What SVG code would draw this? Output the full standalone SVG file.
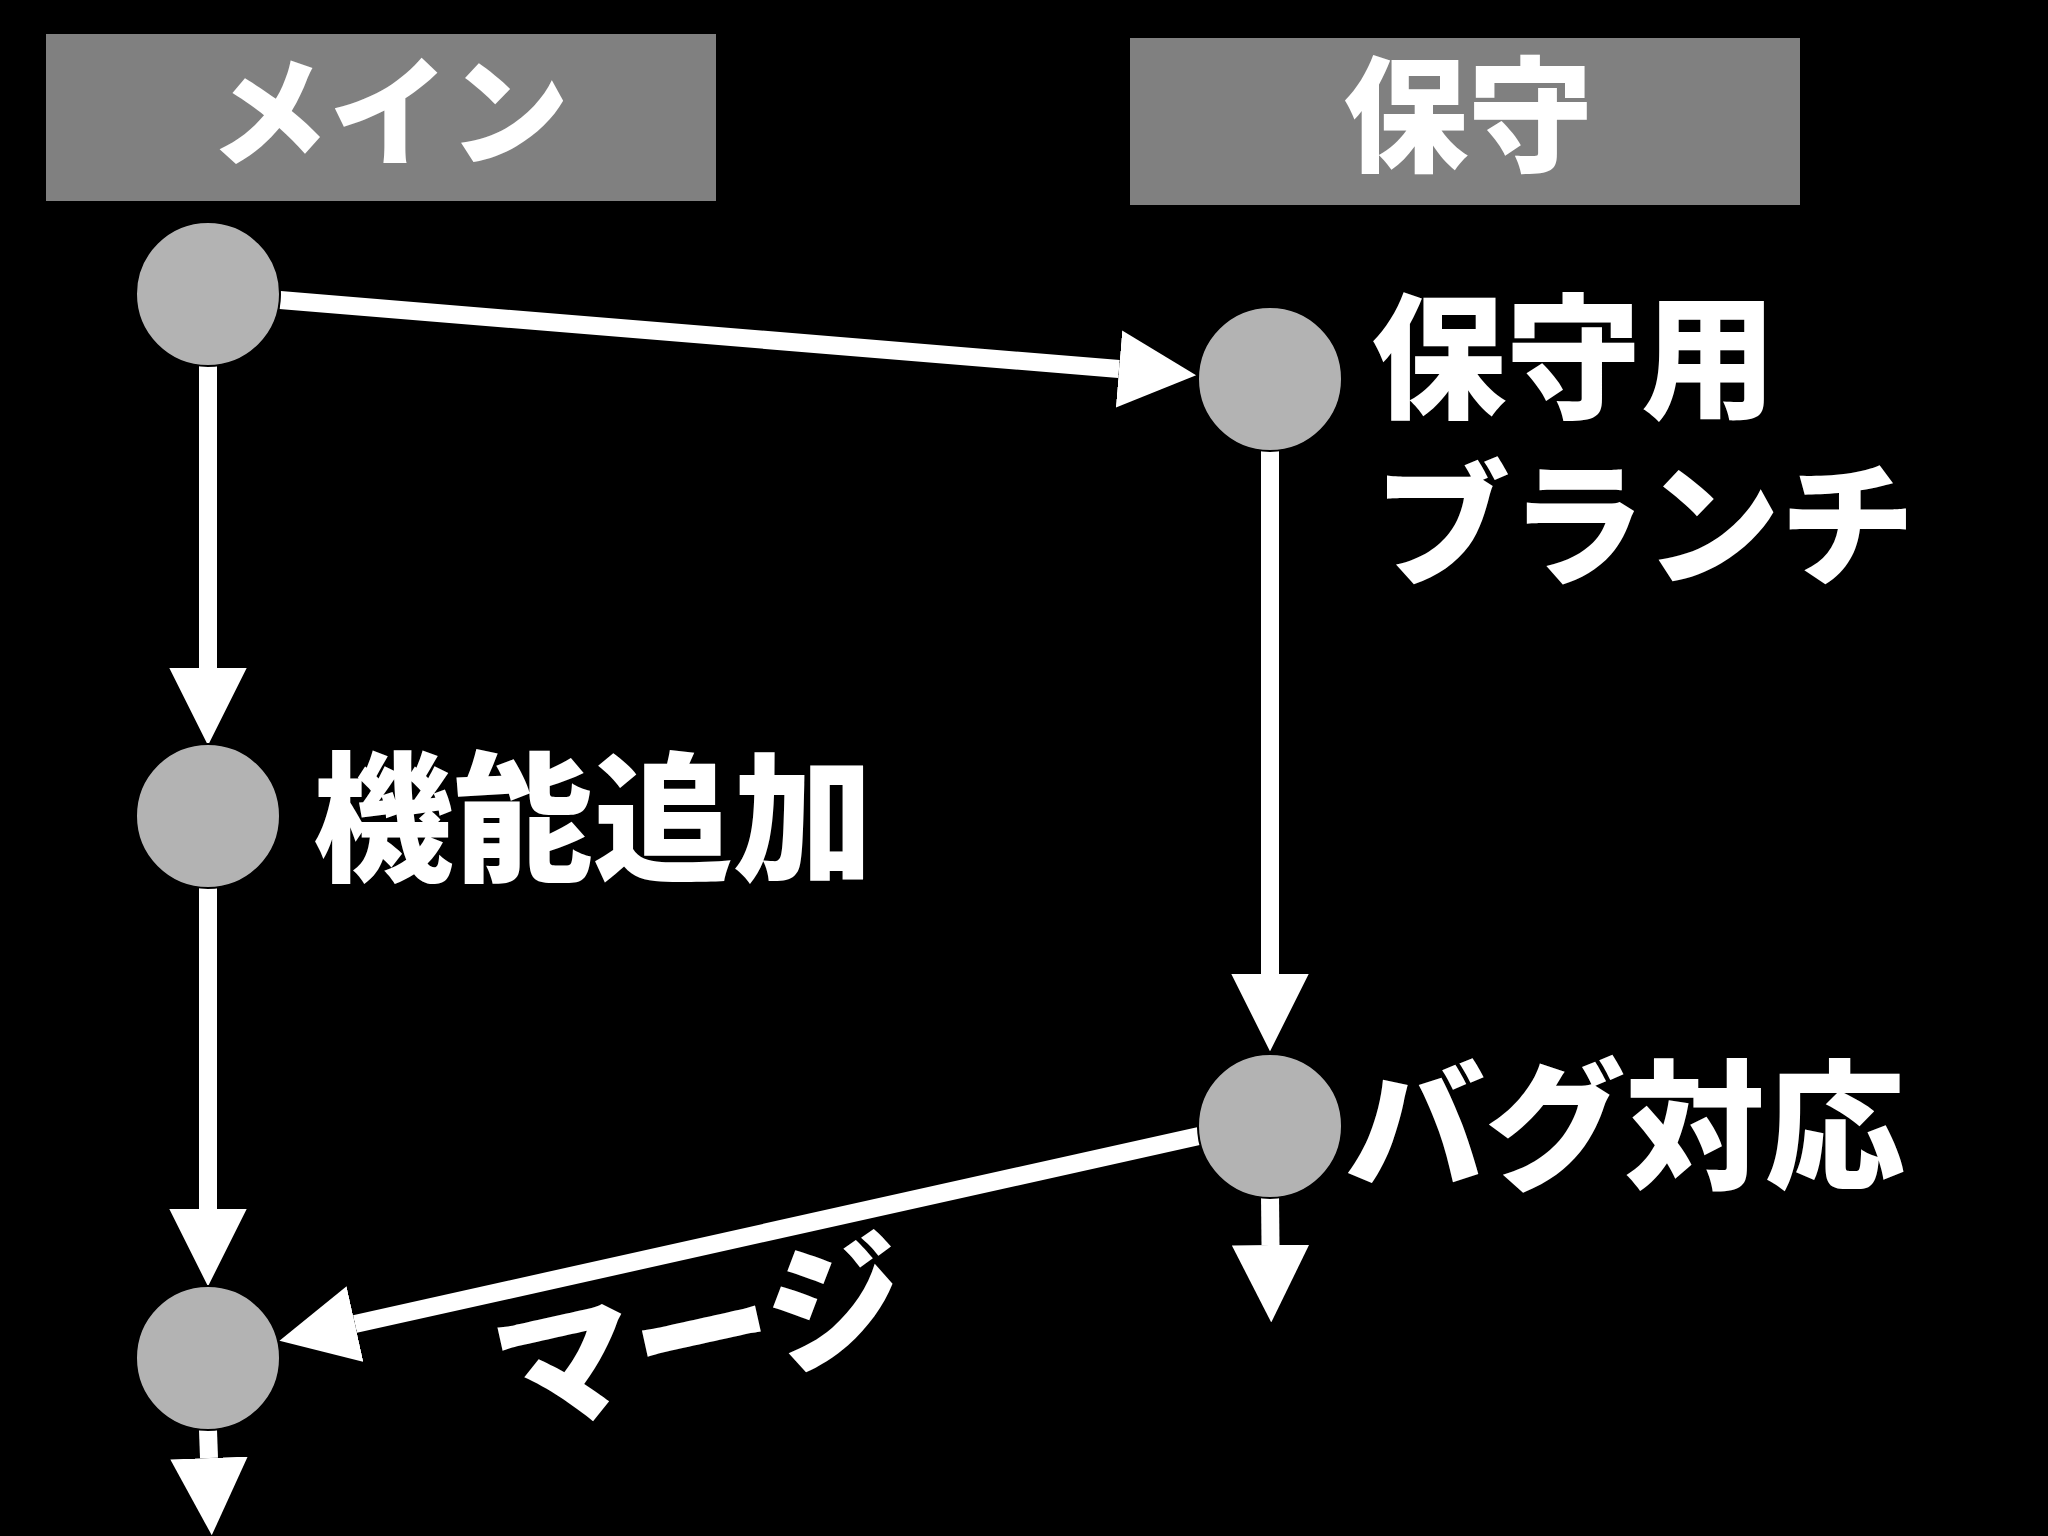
<svg xmlns="http://www.w3.org/2000/svg" width="2048" height="1536" viewBox="0 0 2048 1536">
<style>
.t{font-family:"Noto Sans CJK JP","Noto Sans",sans-serif;font-weight:900;fill:#fff}
.n{fill:#b3b3b3;stroke:#000;stroke-width:2}
.c{stroke:#fff;stroke-width:18;fill:none}
</style>
<defs>
<marker id="a" viewBox="0 0 10 10" refX="0" refY="5" markerWidth="4.3" markerHeight="4.3" orient="auto" markerUnits="strokeWidth">
<path d="M0,0L10,5L0,10z" fill="#fff"/>
</marker>
</defs>
<rect width="2048" height="1536" fill="#000"/>
<g id="h1"><rect x="46" y="34" width="670" height="167" fill="#808080"/><text class="t" x="389" y="157" font-size="120" text-anchor="middle">メイン</text></g>
<g id="h2"><rect x="1130" y="38" width="670" height="167" fill="#808080"/><text class="t" x="1468" y="162" font-size="125" text-anchor="middle">保守</text></g>
<g id="conn">
<line class="c" x1="280" y1="300" x2="1119" y2="369" marker-end="url(#a)"/>
<line class="c" x1="208" y1="366" x2="208" y2="668" marker-end="url(#a)"/>
<line class="c" x1="208" y1="888" x2="208" y2="1209" marker-end="url(#a)"/>
<line class="c" x1="208" y1="1430" x2="209" y2="1458" marker-end="url(#a)"/>
<line class="c" x1="1270" y1="450" x2="1270" y2="974" marker-end="url(#a)"/>
<line class="c" x1="1270" y1="1195" x2="1270.5" y2="1245" marker-end="url(#a)"/>
<line class="c" x1="1199" y1="1136" x2="355" y2="1324" marker-end="url(#a)"/>
</g>
<g id="n1"><circle class="n" cx="208" cy="294" r="72"/></g>
<g id="n2"><circle class="n" cx="1270" cy="379" r="72"/><text class="t" x="1371" y="408" font-size="135">保守用</text><text class="t" x="1375" y="575" font-size="135">ブランチ</text></g>
<g id="n3"><circle class="n" cx="208" cy="816" r="72"/><text class="t" x="313" y="870" font-size="140">機能追加</text></g>
<g id="n4"><circle class="n" cx="1270" cy="1126" r="72"/><text class="t" x="1345" y="1178" font-size="140">バグ対応</text></g>
<g id="n5"><circle class="n" cx="208" cy="1358" r="72"/></g>
<text class="t" x="701" y="1385" font-size="140" text-anchor="middle" transform="rotate(-12.5 701 1335)">マージ</text>
</svg>
